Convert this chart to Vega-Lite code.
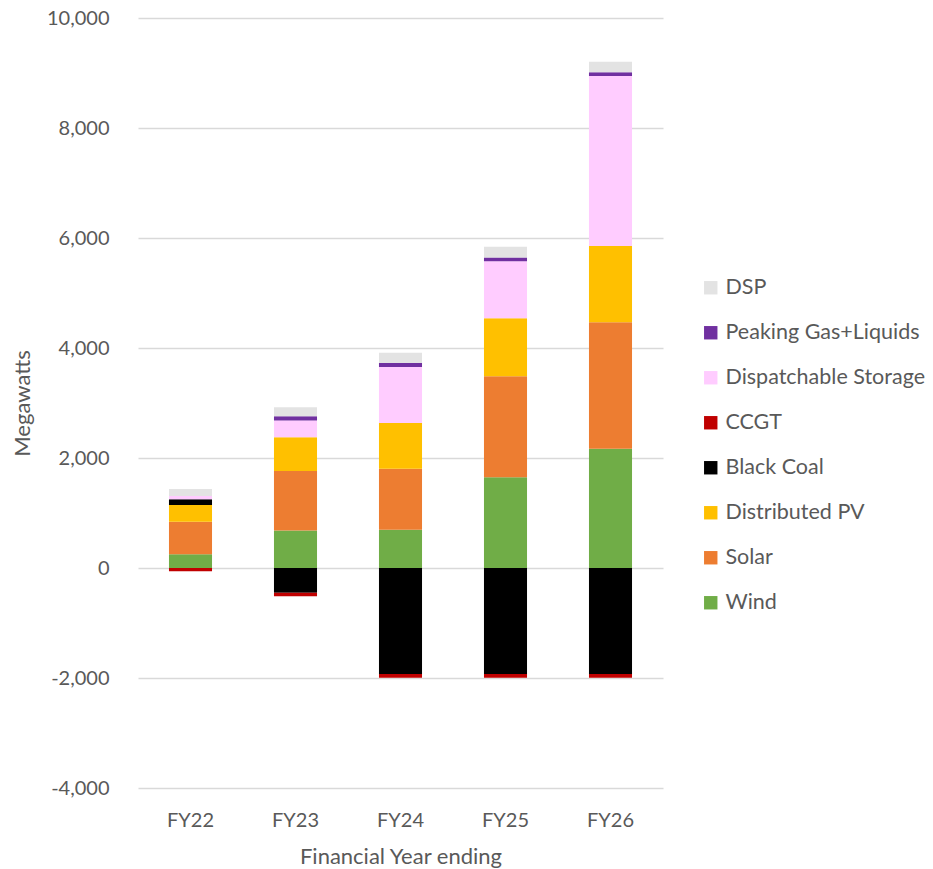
{
  "$schema": "https://vega.github.io/schema/vega-lite/v6.json",
  "width": 525,
  "height": 770,
  "autosize": {"type": "none"},
  "padding": {"left": 138, "top": 18, "right": 270, "bottom": 81},
  "background": "white",
  "config": {
    "font": "Lato",
    "view": {"stroke": null},
    "axis": {
      "labelFont": "Lato",
      "titleFont": "Lato",
      "labelColor": "#595959",
      "titleColor": "#595959",
      "labelFontSize": 20,
      "titleFontSize": 22,
      "titleFontWeight": "normal",
      "domain": false,
      "ticks": false,
      "tickSize": 0
    },
    "legend": {
      "labelFont": "Lato",
      "labelColor": "#595959",
      "labelFontSize": 21.5,
      "labelLimit": 0
    }
  },
  "data": {
    "values": [
      {"year": "FY22", "tech": "Wind", "rank": 1, "mw": 250},
      {"year": "FY22", "tech": "Solar", "rank": 2, "mw": 592},
      {"year": "FY22", "tech": "Distributed PV", "rank": 3, "mw": 303},
      {"year": "FY22", "tech": "Black Coal", "rank": 4, "mw": 104},
      {"year": "FY22", "tech": "CCGT", "rank": 5, "mw": -60},
      {"year": "FY22", "tech": "Dispatchable Storage", "rank": 6, "mw": 60},
      {"year": "FY22", "tech": "Peaking Gas+Liquids", "rank": 7, "mw": 0},
      {"year": "FY22", "tech": "DSP", "rank": 8, "mw": 127},

      {"year": "FY23", "tech": "Wind", "rank": 1, "mw": 680},
      {"year": "FY23", "tech": "Solar", "rank": 2, "mw": 1085},
      {"year": "FY23", "tech": "Distributed PV", "rank": 3, "mw": 612},
      {"year": "FY23", "tech": "Black Coal", "rank": 4, "mw": -448},
      {"year": "FY23", "tech": "CCGT", "rank": 5, "mw": -67},
      {"year": "FY23", "tech": "Dispatchable Storage", "rank": 6, "mw": 303},
      {"year": "FY23", "tech": "Peaking Gas+Liquids", "rank": 7, "mw": 79},
      {"year": "FY23", "tech": "DSP", "rank": 8, "mw": 164},

      {"year": "FY24", "tech": "Wind", "rank": 1, "mw": 697},
      {"year": "FY24", "tech": "Solar", "rank": 2, "mw": 1109},
      {"year": "FY24", "tech": "Distributed PV", "rank": 3, "mw": 830},
      {"year": "FY24", "tech": "Black Coal", "rank": 4, "mw": -1927},
      {"year": "FY24", "tech": "CCGT", "rank": 5, "mw": -67},
      {"year": "FY24", "tech": "Dispatchable Storage", "rank": 6, "mw": 1019},
      {"year": "FY24", "tech": "Peaking Gas+Liquids", "rank": 7, "mw": 72},
      {"year": "FY24", "tech": "DSP", "rank": 8, "mw": 188},

      {"year": "FY25", "tech": "Wind", "rank": 1, "mw": 1650},
      {"year": "FY25", "tech": "Solar", "rank": 2, "mw": 1836},
      {"year": "FY25", "tech": "Distributed PV", "rank": 3, "mw": 1055},
      {"year": "FY25", "tech": "Black Coal", "rank": 4, "mw": -1927},
      {"year": "FY25", "tech": "CCGT", "rank": 5, "mw": -67},
      {"year": "FY25", "tech": "Dispatchable Storage", "rank": 6, "mw": 1036},
      {"year": "FY25", "tech": "Peaking Gas+Liquids", "rank": 7, "mw": 70},
      {"year": "FY25", "tech": "DSP", "rank": 8, "mw": 195},

      {"year": "FY26", "tech": "Wind", "rank": 1, "mw": 2170},
      {"year": "FY26", "tech": "Solar", "rank": 2, "mw": 2297},
      {"year": "FY26", "tech": "Distributed PV", "rank": 3, "mw": 1388},
      {"year": "FY26", "tech": "Black Coal", "rank": 4, "mw": -1927},
      {"year": "FY26", "tech": "CCGT", "rank": 5, "mw": -67},
      {"year": "FY26", "tech": "Dispatchable Storage", "rank": 6, "mw": 3090},
      {"year": "FY26", "tech": "Peaking Gas+Liquids", "rank": 7, "mw": 68},
      {"year": "FY26", "tech": "DSP", "rank": 8, "mw": 192}
    ]
  },
  "mark": {"type": "bar"},
  "encoding": {
    "x": {
      "field": "year",
      "type": "nominal",
      "sort": ["FY22", "FY23", "FY24", "FY25", "FY26"],
      "scale": {"paddingInner": 0.59, "paddingOuter": 0.295},
      "axis": {
        "title": "Financial Year ending",
        "labelAngle": 0,
        "labelPadding": 22,
        "titlePadding": 16,
        "grid": false
      }
    },
    "y": {
      "field": "mw",
      "type": "quantitative",
      "stack": "zero",
      "scale": {"domain": [-4000, 10000], "nice": false},
      "axis": {
        "title": "Megawatts",
        "values": [-4000, -2000, 0, 2000, 4000, 6000, 8000, 10000],
        "labelExpr": "replace(format(datum.value, ','), '\u2212', '-')",
        "labelPadding": 29,
        "titlePadding": 12,
        "grid": true,
        "gridColor": "#d9d9d9",
        "gridWidth": 1.3
      }
    },
    "color": {
      "field": "tech",
      "type": "nominal",
      "scale": {
        "domain": ["DSP", "Peaking Gas+Liquids", "Dispatchable Storage", "CCGT", "Black Coal", "Distributed PV", "Solar", "Wind"],
        "range": ["#e3e3e3", "#7030a0", "#ffccff", "#c00000", "#000000", "#ffc000", "#ed7d31", "#70ad47"]
      },
      "legend": {
        "title": null,
        "orient": "none",
        "legendX": 562,
        "legendY": 259,
        "symbolType": "square",
        "symbolSize": 180,
        "symbolStrokeWidth": 0,
        "rowPadding": 22,
        "labelOffset": 4
      }
    },
    "order": {"field": "rank", "type": "quantitative", "sort": "ascending"}
  }
}
